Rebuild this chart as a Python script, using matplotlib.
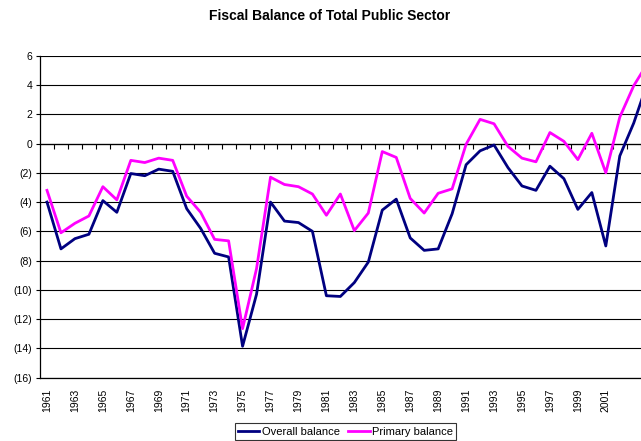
import matplotlib.pyplot as plt
from matplotlib.ticker import FuncFormatter, MultipleLocator

plt.rcParams['font.family'] = ['Liberation Sans', 'DejaVu Sans']

years = list(range(1961, 2005))
overall = [-4.0, -7.2, -6.5, -6.2, -3.9, -4.7, -2.05, -2.2, -1.75, -1.9,
           -4.45, -5.8, -7.5, -7.75, -13.85, -10.3, -4.0, -5.3, -5.4, -6.0,
           -10.4, -10.45, -9.5, -8.1, -4.55, -3.8, -6.45, -7.3, -7.2, -4.8,
           -1.45, -0.5, -0.1, -1.65, -2.9, -3.2, -1.55, -2.4, -4.5, -3.35,
           -7.0, -0.85, 1.4, 4.2]
primary = [-3.2, -6.1, -5.45, -4.95, -2.95, -3.85, -1.15, -1.3, -1.0, -1.15,
           -3.6, -4.7, -6.55, -6.65, -12.65, -8.55, -2.3, -2.8, -2.95, -3.45,
           -4.9, -3.45, -5.95, -4.75, -0.55, -0.95, -3.75, -4.75, -3.4, -3.1,
           -0.05, 1.65, 1.35, -0.2, -1.0, -1.25, 0.75, 0.15, -1.1, 0.7,
           -2.0, 1.8, 3.95, 5.5]
label_years = list(range(1961, 2002, 2))

fig = plt.figure(figsize=(6.41, 4.41), dpi=100)
# plot area runs past the right edge of the figure
ax = fig.add_axes([40 / 641, 63.3 / 441, 614.7 / 641, 322 / 441])

x = list(range(len(years)))
ax.plot(x, overall, color='#000080', lw=2.0, label='Overall balance', zorder=3)
ax.plot(x, primary, color='#FF00FF', lw=2.0, label='Primary balance', zorder=3)

ax.set_xlim(-0.5, len(years) - 0.5)
ax.set_ylim(-16, 6)
ax.yaxis.set_major_locator(MultipleLocator(2))
ax.yaxis.set_major_formatter(FuncFormatter(
    lambda v, p: f'({abs(int(round(v)))})' if v < 0 else f'{int(round(v))}'))
ax.grid(axis='y', color='black', lw=0.8)
ax.set_axisbelow(True)

ax.set_xticks([years.index(y) for y in label_years])
ax.set_xticklabels([str(y) for y in label_years], rotation=90, fontsize=7.5)
ax.tick_params(axis='x', length=0, pad=8)
ax.tick_params(axis='y', length=3, width=0.8, pad=2.5, labelsize=7.5)

for s in ['top', 'right']:
    ax.spines[s].set_visible(False)
ax.spines['left'].set_linewidth(0.9)
ax.spines['bottom'].set_linewidth(0.9)

# category ticks along the zero line
zero = ax.secondary_xaxis(16 / 22)
zero.set_xticks([i + 0.5 for i in x])
zero.tick_params(direction='in', length=3.5, width=0.8, labeltop=False)
zero.spines['top'].set_linewidth(0.9)

fig.text(0.515, 0.963, 'Fiscal Balance of Total Public Sector',
         ha='center', va='center', fontsize=10, fontweight='bold')

leg = fig.legend(loc='lower center', bbox_to_anchor=(0.539, 0.0), ncol=2,
                 fontsize=8, handlelength=1.9, handletextpad=0.2,
                 columnspacing=0.8, borderpad=0.3, fancybox=False,
                 frameon=True, borderaxespad=0.1)
leg.get_frame().set_edgecolor('black')
leg.get_frame().set_linewidth(0.8)

fig.savefig('out.png', dpi=100)
